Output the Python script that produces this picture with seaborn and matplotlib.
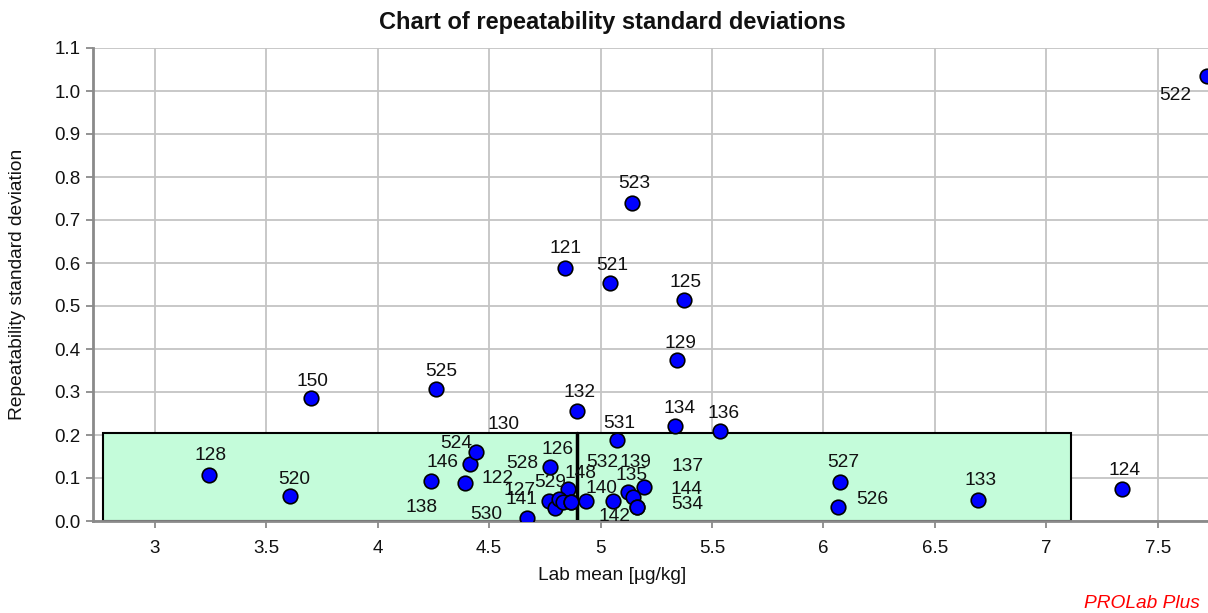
import matplotlib
matplotlib.use("Agg")
import matplotlib.pyplot as plt
import seaborn as sns
import pandas as pd
from matplotlib.patches import Rectangle

labs = ["128", "520", "150", "525", "121", "521", "523", "125", "129", "132",
        "134", "136", "527", "526", "133", "124", "522", "138", "146", "524",
        "122", "126", "148", "530", "141", "127", "528", "529", "130", "532",
        "140", "142", "135", "139", "137", "144", "534", "531"]
lab_mean = [3.242, 3.606, 3.700, 4.261, 4.840, 5.042, 5.141, 5.374, 5.343, 4.894,
            5.334, 5.536, 6.074, 6.065, 6.694, 7.340, 7.722, 4.239, 4.414, 4.441,
            4.391, 4.773, 4.854, 4.670, 4.768, 4.795, 4.813, 4.831, 4.867, 4.867,
            4.934, 5.056, 5.123, 5.195, 5.145, 5.163, 5.163, 5.074]
rep_sd = [0.107, 0.058, 0.286, 0.307, 0.588, 0.553, 0.740, 0.514, 0.374, 0.256,
          0.221, 0.209, 0.091, 0.033, 0.049, 0.074, 1.035, 0.093, 0.133, 0.160,
          0.088, 0.126, 0.074, 0.007, 0.047, 0.030, 0.051, 0.044, 0.044, 0.044,
          0.047, 0.047, 0.067, 0.079, 0.056, 0.033, 0.033, 0.188]
# label offsets in pixels (dx, dy) relative to the marker
lab_dx = [2, 4, 2, 5, 1, 2, 2, 2, 3, 3,
          4, 4, 3, 34, 3, 3, -32, -9, -28, -20,
          33, 8, 12, -41, -27, -35, -37, -13, -67, 31,
          16, 1, 4, -9, 55, 50, 50, 2]
lab_dy = [19, 17, 17, 17, 20, 18, 19, 17, 17, 18,
          17, 18, 19, 7, 19, 19, -20, -26, 1, 9,
          5, 17, 16, 3, 1, 18, 36, 20, 78, 40,
          12, -16, 17, 25, 30, 17, 2, 17]

box_left = 2.767
box_right = 7.112
box_top = 0.205
center_value = 4.893

xticks = [3, 3.5, 4, 4.5, 5, 5.5, 6, 6.5, 7, 7.5]
xticklabels = ["3", "3.5", "4", "4.5", "5", "5.5", "6", "6.5", "7", "7.5"]
yticks = [0.0, 0.1, 0.2, 0.3, 0.4, 0.5, 0.6, 0.7, 0.8, 0.9, 1.0, 1.1]
yticklabels = ["0.0", "0.1", "0.2", "0.3", "0.4", "0.5", "0.6", "0.7", "0.8", "0.9", "1.0", "1.1"]

df = pd.DataFrame({"lab": labs, "x": lab_mean, "y": rep_sd})

sns.set_theme(style="whitegrid")
plt.rcParams["font.family"] = ["Liberation Sans", "DejaVu Sans"]

fig = plt.figure(figsize=(12.08, 6.13), dpi=100)
ax = fig.add_axes([93 / 1208, 1 - 521 / 613, 1 - 93 / 1208, (521 - 48) / 613])
ax.set_facecolor("white")

ax.set_xlim(2.722, 7.726)
ax.set_ylim(0, 1.1)
ax.set_xticks(xticks)
ax.set_xticklabels(xticklabels)
ax.set_yticks(yticks)
ax.set_yticklabels(yticklabels)
ax.grid(True, color="#c4c4c4", linewidth=1.3)
ax.set_axisbelow(True)

ax.add_patch(Rectangle((box_left, 0), box_right - box_left, box_top,
                       facecolor="#c4fcda", edgecolor="black", linewidth=1.5, zorder=1.5))
ax.plot([center_value, center_value], [0, box_top], color="black", linewidth=2.5, zorder=1.6)

sns.scatterplot(data=df, x="x", y="y", ax=ax, s=110, color="#0000ff",
                edgecolor="black", linewidth=1.2, zorder=3, clip_on=True, legend=False)

for lab, x, y, dx, dy in zip(labs, lab_mean, rep_sd, lab_dx, lab_dy):
    ax.annotate(lab, (x, y), xytext=(dx, dy), textcoords="offset pixels",
                ha="center", va="center", fontsize=13.8, color="#111111", zorder=4,
                annotation_clip=False)

for side in ["top", "right"]:
    ax.spines[side].set_visible(False)
for side in ["left", "bottom"]:
    ax.spines[side].set_visible(True)
    ax.spines[side].set_color("#8a8a8a")
    ax.spines[side].set_linewidth(2)

ax.tick_params(axis="both", which="both", length=5, width=1.3, color="#8a8a8a",
               labelsize=13.5, labelcolor="#111111", left=True, bottom=True, pad=4)
ax.tick_params(axis="x", pad=9)

ax.set_xlabel("Lab mean [µg/kg]", fontsize=13.8, color="#111111")
ax.set_ylabel("Repeatability standard deviation", fontsize=13.8, color="#111111")
ax.xaxis.set_label_coords((612 - 93) / 1115, (521 - 576) / 473)
ax.yaxis.set_label_coords((18 - 93) / 1115, 0.5)
ax.xaxis.label.set_va("center")
ax.yaxis.label.set_va("center")
fig.text(0.507, 1 - 23 / 613, "Chart of repeatability standard deviations",
         ha="center", va="center", fontsize=17, fontweight="bold", color="#111111")
fig.text(1 - 8 / 1208, 1 - 603 / 613, "PROLab Plus", ha="right", va="center",
         fontsize=13.8, fontstyle="italic", color="#ff0000")

fig.savefig("out.png", dpi=100)
